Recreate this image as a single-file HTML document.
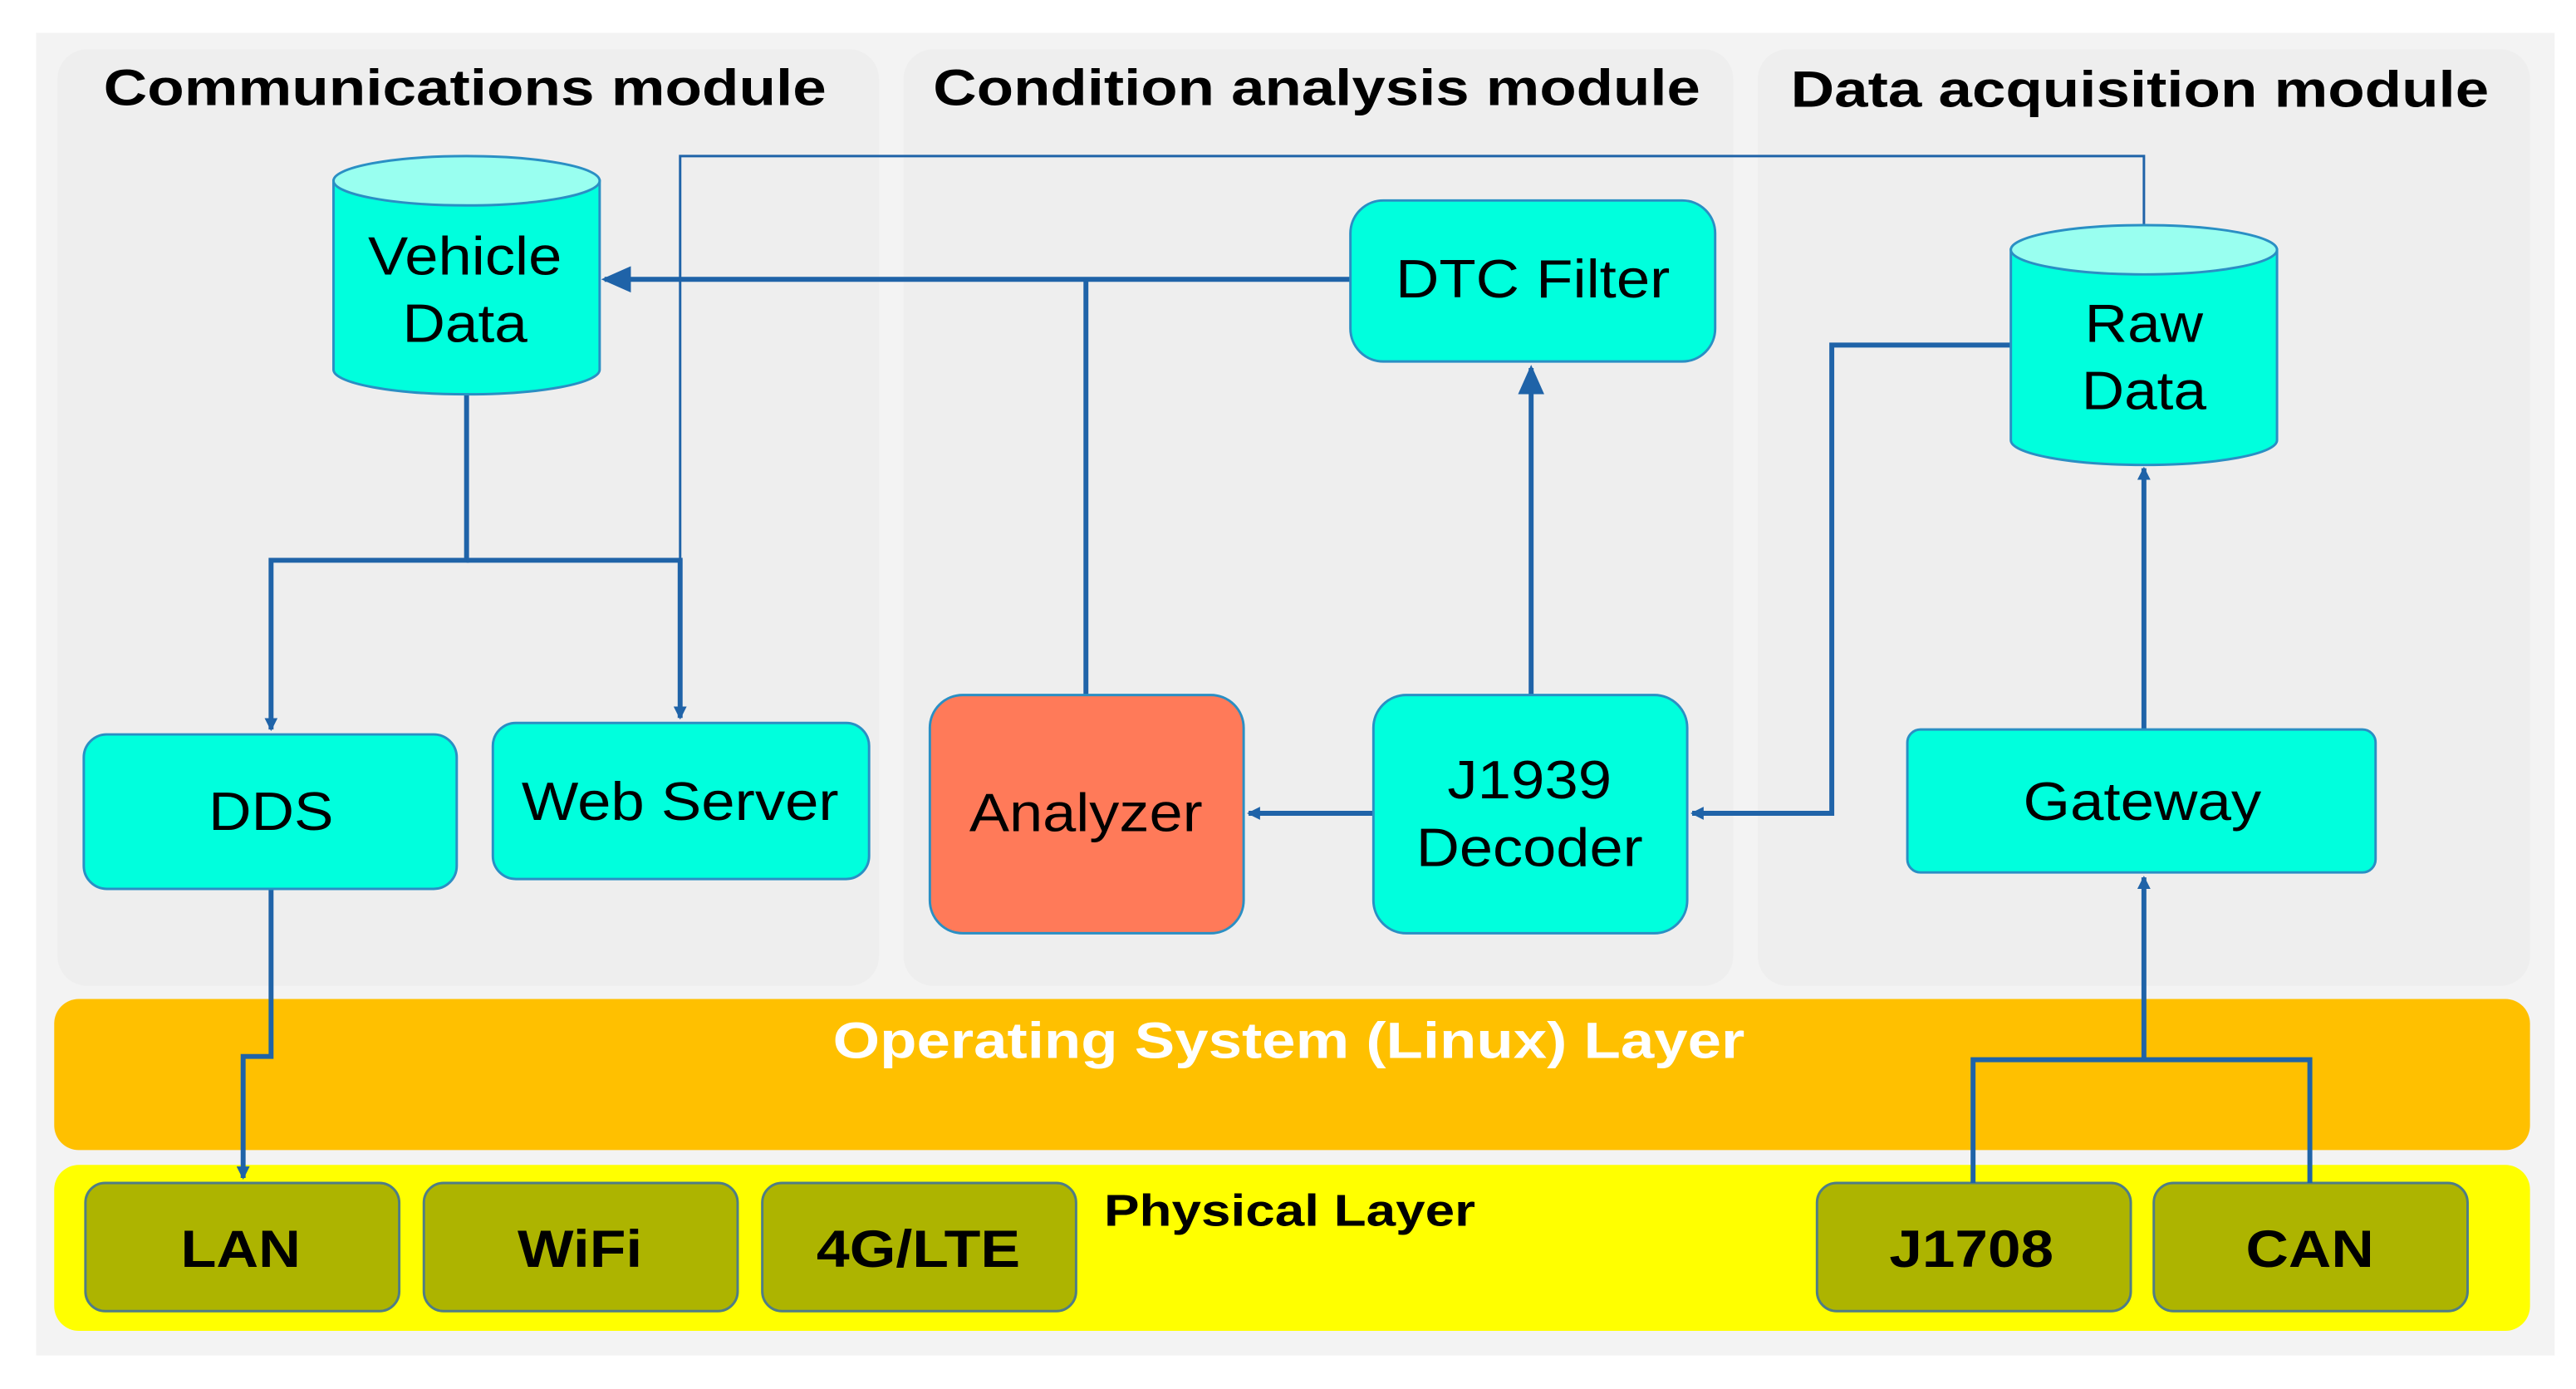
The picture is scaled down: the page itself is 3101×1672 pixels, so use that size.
<!DOCTYPE html>
<html><head><meta charset="utf-8"><style>
html,body{margin:0;padding:0;background:#fff;}
svg{display:block;}
text{font-family:"Liberation Sans",Arial,sans-serif;}
</style></head><body>
<svg width="3101" height="1672" viewBox="0 0 1568 845.4" xmlns="http://www.w3.org/2000/svg">
<defs>
<marker id="a" markerWidth="8" markerHeight="8" refX="7" refY="4" orient="auto" markerUnits="userSpaceOnUse"><path d="M0,0 L8,4 L0,8 z" fill="#1f63a8"/></marker>
<marker id="b" markerWidth="18" markerHeight="16" refX="16" refY="8" orient="auto" markerUnits="userSpaceOnUse"><path d="M0,0 L18,8 L0,16 z" fill="#1f63a8"/></marker>
</defs>
<rect x="0" y="0" width="1568" height="846" fill="#fff"/>
<rect x="22" y="20" width="1533" height="805" fill="#f3f3f3"/>
<rect x="35" y="30" width="500" height="570" rx="18" fill="#eeeeee"/>
<rect x="550" y="30" width="505" height="570" rx="18" fill="#eeeeee"/>
<rect x="1070" y="30" width="470" height="570" rx="18" fill="#eeeeee"/>
<g font-weight="bold" font-size="31" fill="#000" lengthAdjust="spacingAndGlyphs">
<text x="63" y="64" textLength="440" lengthAdjust="spacingAndGlyphs">Communications module</text>
<text x="568" y="64" textLength="467" lengthAdjust="spacingAndGlyphs">Condition analysis module</text>
<text x="1090" y="65" textLength="425" lengthAdjust="spacingAndGlyphs">Data acquisition module</text>
</g>
<!-- layers -->
<rect x="33" y="608" width="1507" height="92" rx="15" fill="#ffc000"/>
<text x="507" y="644" font-size="31" font-weight="bold" fill="#fff" textLength="555" lengthAdjust="spacingAndGlyphs">Operating System (Linux) Layer</text>
<rect x="33" y="709" width="1507" height="101" rx="15" fill="#ffff00"/>
<text x="672" y="746" font-size="27" font-weight="bold" fill="#000" textLength="226" lengthAdjust="spacingAndGlyphs">Physical Layer</text>
<g fill="#adb400" stroke="#4f7d86" stroke-width="1.5">
<rect x="52" y="720" width="191" height="78" rx="12"/>
<rect x="258" y="720" width="191" height="78" rx="12"/>
<rect x="464" y="720" width="191" height="78" rx="12"/>
<rect x="1106" y="720" width="191" height="78" rx="12"/>
<rect x="1311" y="720" width="191" height="78" rx="12"/>
</g>
<g font-size="32" font-weight="bold" fill="#000">
<text x="110" y="771" textLength="73" lengthAdjust="spacingAndGlyphs">LAN</text>
<text x="315" y="771" textLength="76" lengthAdjust="spacingAndGlyphs">WiFi</text>
<text x="497" y="771" textLength="124" lengthAdjust="spacingAndGlyphs">4G/LTE</text>
<text x="1150" y="771" textLength="100" lengthAdjust="spacingAndGlyphs">J1708</text>
<text x="1367" y="771" textLength="78" lengthAdjust="spacingAndGlyphs">CAN</text>
</g>
<!-- thin line -->
<polyline points="414,340 414,95 1305,95 1305,137" fill="none" stroke="#1f63a8" stroke-width="1.5"/>
<!-- connectors -->
<g fill="none" stroke="#1f63a8" stroke-width="3">
<polyline points="284,240 284,341 165,341 165,444" marker-end="url(#a)"/>
<polyline points="284,341 414,341 414,437" marker-end="url(#a)"/>
<polyline points="822,170 368,170" marker-end="url(#b)"/>
<line x1="661" y1="170" x2="661" y2="423"/>
<line x1="932" y1="423" x2="932" y2="224" marker-end="url(#b)"/>
<line x1="836" y1="495" x2="760" y2="495" marker-end="url(#a)"/>
<polyline points="1224,210 1115,210 1115,495 1030,495" marker-end="url(#a)"/>
<line x1="1305" y1="444" x2="1305" y2="285" marker-end="url(#a)"/>
<polyline points="1201,720 1201,645 1406,645 1406,720"/>
<line x1="1305" y1="645" x2="1305" y2="534" marker-end="url(#a)"/>
<polyline points="165,541 165,643 148,643 148,717" marker-end="url(#a)"/>
</g>
<!-- cylinders -->
<g stroke="#2a8fc4" stroke-width="1.5">
<path d="M203,110 L203,225 A81,15 0 0 0 365,225 L365,110 Z" fill="#00ffdd"/>
<ellipse cx="284" cy="110" rx="81" ry="15" fill="#99fff0"/>
<path d="M1224,152 L1224,268 A81,15 0 0 0 1386,268 L1386,152 Z" fill="#00ffdd"/>
<ellipse cx="1305" cy="152" rx="81" ry="15" fill="#99fff0"/>
</g>
<!-- boxes -->
<g fill="#00ffdd" stroke="#2a8fc4" stroke-width="1.5">
<rect x="822" y="122" width="222" height="98" rx="20"/>
<rect x="51" y="447" width="227" height="94" rx="14"/>
<rect x="300" y="440" width="229" height="95" rx="14"/>
<rect x="836" y="423" width="191" height="145" rx="20"/>
<rect x="1161" y="444" width="285" height="87" rx="8"/>
</g>
<rect x="566" y="423" width="191" height="145" rx="20" fill="#ff7a59" stroke="#2a8fc4" stroke-width="1.5"/>
<g font-size="33" fill="#000" text-anchor="middle">
<text x="283" y="167" textLength="118" lengthAdjust="spacingAndGlyphs">Vehicle</text>
<text x="283" y="208" textLength="76" lengthAdjust="spacingAndGlyphs">Data</text>
<text x="1305" y="208" textLength="72" lengthAdjust="spacingAndGlyphs">Raw</text>
<text x="1305" y="249" textLength="76" lengthAdjust="spacingAndGlyphs">Data</text>
<text x="933" y="181" textLength="167" lengthAdjust="spacingAndGlyphs">DTC Filter</text>
<text x="165" y="505" textLength="76" lengthAdjust="spacingAndGlyphs">DDS</text>
<text x="414" y="499" textLength="193" lengthAdjust="spacingAndGlyphs">Web Server</text>
<text x="661" y="506" textLength="142" lengthAdjust="spacingAndGlyphs">Analyzer</text>
<text x="931" y="486" textLength="100" lengthAdjust="spacingAndGlyphs">J1939</text>
<text x="931" y="527" textLength="138" lengthAdjust="spacingAndGlyphs">Decoder</text>
<text x="1304" y="499" textLength="145" lengthAdjust="spacingAndGlyphs">Gateway</text>
</g>
</svg>
</body></html>
